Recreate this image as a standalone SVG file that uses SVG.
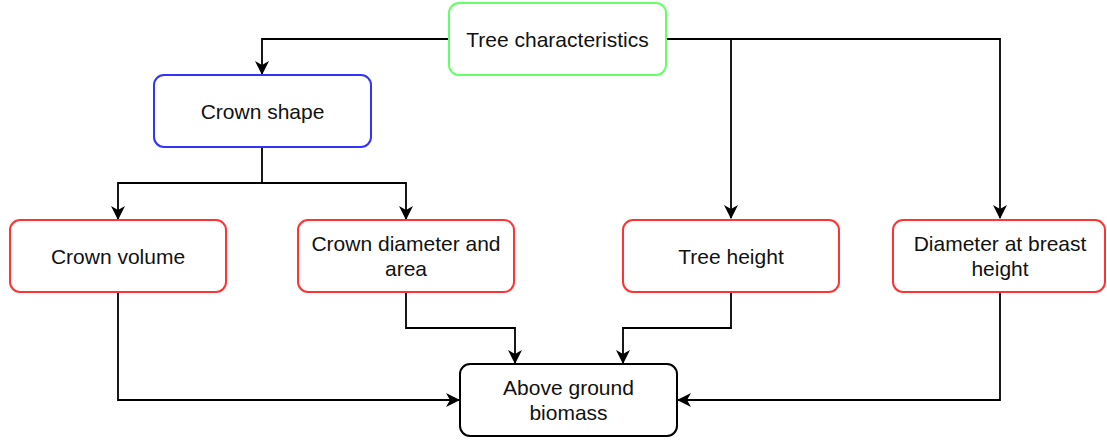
<svg xmlns="http://www.w3.org/2000/svg" width="1107" height="441" viewBox="0 0 1107 441">
<defs>
<marker id="arr" markerWidth="14" markerHeight="14" viewBox="0 0 14 14" refX="13" refY="7" orient="auto" markerUnits="userSpaceOnUse">
<path d="M0,0 L14,7 L0,14 L4,7 Z" fill="#000"/>
</marker>
<style>
.box{fill:#fff;stroke-width:2}
.g{stroke:#66ff66}
.b{stroke:#3333ff}
.r{stroke:#ff3333}
.k{stroke:#000}
text{font-family:"Liberation Sans",Arial,sans-serif;font-size:21px;fill:#111;text-anchor:middle}
.c path{fill:none;stroke:#000;stroke-width:1.8;marker-end:url(#arr)}
</style>
</defs>
<rect width="1107" height="441" fill="#fff"/>
<g class="c" id="connectors">
<path d="M449,39 H262 V74"/>
<path d="M666,39 H1000 V218"/>
<path d="M731,39 V218"/>
<path d="M262,147 V183 H118 V219"/>
<path d="M262,183 H406 V219"/>
<path d="M406,292 V328 H515 V363"/>
<path d="M731,292 V328 H623 V363"/>
<path d="M118,292 V400 H459"/>
<path d="M1000,292 V400 H678"/>
</g>
<g id="tree-characteristics"><rect class="box g" x="449" y="3" width="217" height="72" rx="10"/><text x="557.5" y="47">Tree characteristics</text></g>
<g id="crown-shape"><rect class="box b" x="154" y="75" width="217" height="72" rx="10"/><text x="262.5" y="119">Crown shape</text></g>
<g id="crown-volume"><rect class="box r" x="10" y="220" width="216" height="72" rx="10"/><text x="118" y="263.5">Crown volume</text></g>
<g id="crown-diameter"><rect class="box r" x="298" y="220" width="216" height="72" rx="10"/><text x="406" y="251">Crown diameter and</text><text x="406" y="276">area</text></g>
<g id="tree-height"><rect class="box r" x="623" y="220" width="216" height="72" rx="10"/><text x="731" y="263.5">Tree height</text></g>
<g id="dbh"><rect class="box r" x="893" y="220" width="212" height="72" rx="10"/><text x="1000" y="251">Diameter at breast</text><text x="1000" y="276">height</text></g>
<g id="agb"><rect class="box k" x="460" y="364" width="217" height="72" rx="10"/><text x="568.5" y="395">Above ground</text><text x="568.5" y="420">biomass</text></g>
</svg>
